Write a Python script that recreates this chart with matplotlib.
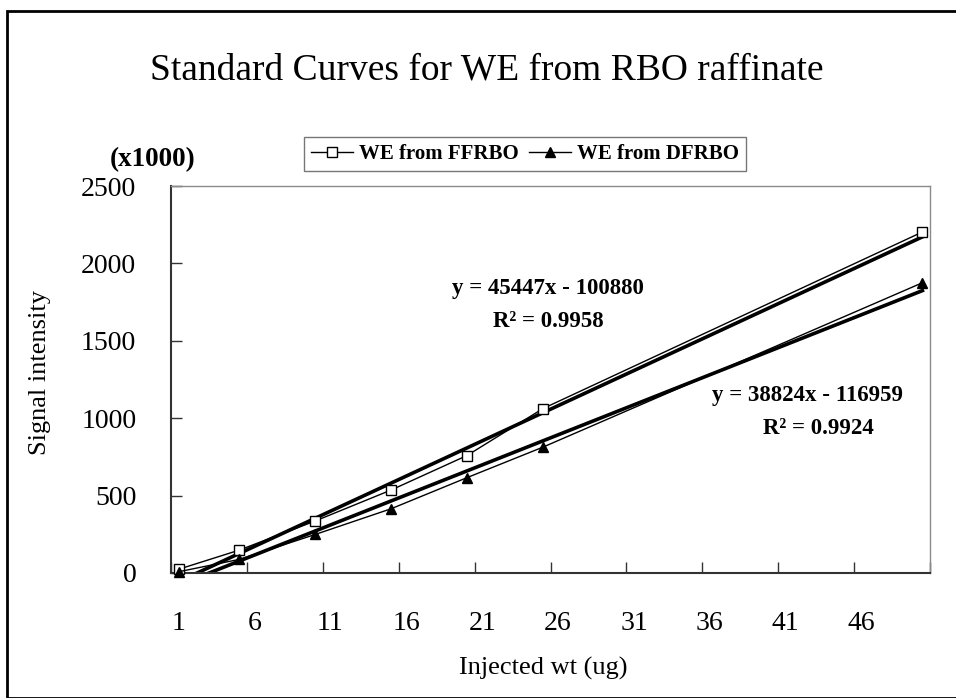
import matplotlib
matplotlib.use("Agg")
import matplotlib.pyplot as plt
from matplotlib.patches import Rectangle
import numpy as np

# ---- data ----
x_vals = [1, 5, 10, 15, 20, 25, 50]
ffrbo = [24, 148, 336, 536, 759, 1062, 2203]   # (x1000)
dfrbo = [8, 88, 249, 415, 616, 813, 1875]      # (x1000)
fit_ffrbo = (45447, -100880)
fit_dfrbo = (38824, -116959)
r2_ffrbo = 0.9958
r2_dfrbo = 0.9924
xtick_labels = [1, 6, 11, 16, 21, 26, 31, 36, 41, 46]
ytick_vals = [0, 500, 1000, 1500, 2000, 2500]

W, H = 956, 698
plt.rcParams['font.family'] = ['Liberation Serif', 'DejaVu Serif']
fig = plt.figure(figsize=(W / 100, H / 100), dpi=100)

# outer chart border
fig.patches.append(Rectangle((7 / W, 0), 1, 1 - 11 / H, transform=fig.transFigure,
                             fill=False, edgecolor='black', linewidth=2.0, zorder=0))

left, right, top, bottom = 171, 930, 186, 573
ax = fig.add_axes([left / W, 1 - bottom / H, (right - left) / W, (bottom - top) / H])

ax.set_xlim(0.5, 50.5)
ax.set_ylim(0, 2500)

# trendlines
xt = np.array([x_vals[0], x_vals[-1]], dtype=float)
for (m, b) in (fit_ffrbo, fit_dfrbo):
    ax.plot(xt, (m * xt + b) / 1000.0, color='black', linewidth=2.6, zorder=2)

# data series
ax.plot(x_vals, ffrbo, color='black', linewidth=1.0, marker='s', markersize=6.5,
        markerfacecolor='white', markeredgecolor='black', markeredgewidth=1.0,
        label='WE from FFRBO', zorder=3, clip_on=False)
ax.plot(x_vals, dfrbo, color='black', linewidth=1.0, marker='^', markersize=7.5,
        markerfacecolor='black', markeredgecolor='black',
        label='WE from DFRBO', zorder=3, clip_on=False)

# ticks
ax.set_xticks(np.arange(0.5, 51, 5), minor=False)
ax.set_xticklabels([])
ax.set_xticks(xtick_labels, minor=True)
ax.set_xticklabels([str(v) for v in xtick_labels], minor=True)
ax.tick_params(axis='x', which='major', direction='in', length=8, width=1.0, color='#333333')
ax.tick_params(axis='x', which='minor', length=0, pad=27, labelsize=20)
ax.set_yticks(ytick_vals)
ax.set_yticklabels([str(v) for v in ytick_vals])
ax.tick_params(axis='y', direction='in', length=8, width=1.0, color='#333333',
               pad=25, labelsize=20)

for s in ('left', 'bottom'):
    ax.spines[s].set_color('#333333')
    ax.spines[s].set_linewidth(1.5)
for s in ('top', 'right'):
    ax.spines[s].set_color('#8a8a8a')
    ax.spines[s].set_linewidth(1.0)

# labels
fig.text(487 / W, 1 - 70 / H, 'Standard Curves for WE from RBO raffinate',
         ha='center', va='center', fontsize=27)
fig.text(40 / W, 1 - 372 / H, 'Signal intensity', rotation=90,
         ha='center', va='center', fontsize=19)
fig.text(543 / W, 1 - 668 / H, 'Injected wt (ug)', ha='center', va='center', fontsize=19)
fig.text(153 / W, 1 - 160 / H, '(x1000)', ha='center', va='center',
         fontsize=19.5, fontweight='bold')

# equations
fig.text(548 / W, 1 - 288 / H, 'y = %dx - %d' % (fit_ffrbo[0], -fit_ffrbo[1]),
         ha='center', va='center', fontsize=16.5, fontweight='bold')
fig.text(548 / W, 1 - 321 / H, 'R\u00b2 = %.4f' % r2_ffrbo,
         ha='center', va='center', fontsize=16.5, fontweight='bold')
fig.text(808 / W, 1 - 395 / H, 'y = %dx - %d' % (fit_dfrbo[0], -fit_dfrbo[1]),
         ha='center', va='center', fontsize=16.5, fontweight='bold')
fig.text(818 / W, 1 - 428 / H, 'R\u00b2 = %.4f' % r2_dfrbo,
         ha='center', va='center', fontsize=16.5, fontweight='bold')

# legend
leg = fig.legend(loc='center', bbox_to_anchor=(525 / W, 1 - 154 / H), ncol=2,
                 frameon=True, fancybox=False, edgecolor='#555555',
                 prop={'size': 15, 'weight': 'bold'}, handlelength=2.0,
                 handletextpad=0.3, columnspacing=0.5, borderpad=0.35,
                 borderaxespad=0)
leg.get_frame().set_linewidth(1.0)

fig.savefig('out.png', dpi=100)
